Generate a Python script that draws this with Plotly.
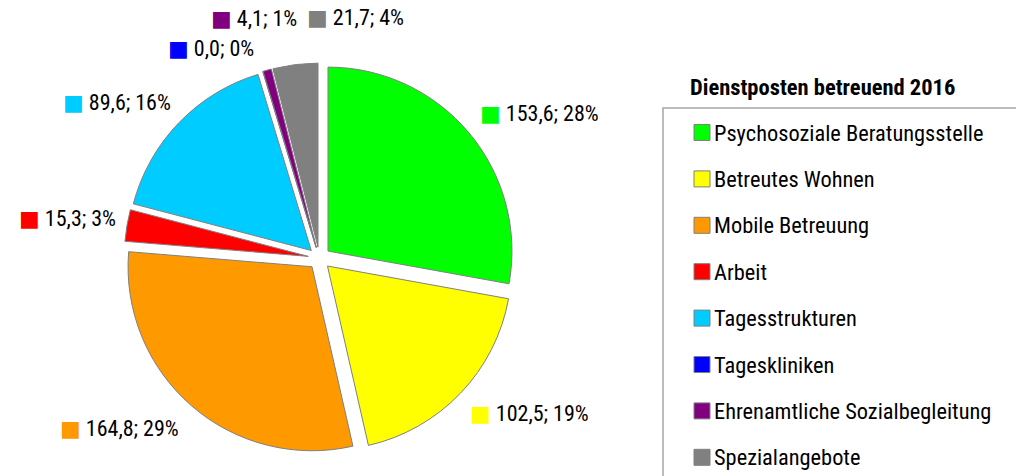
import math
import plotly.graph_objects as go

categories = ["Psychosoziale Beratungsstelle", "Betreutes Wohnen", "Mobile Betreuung", "Arbeit",
              "Tagesstrukturen", "Tageskliniken", "Ehrenamtliche Sozialbegleitung", "Spezialangebote"]
values = [153.6, 102.5, 164.8, 15.3, 89.6, 0.0, 4.1, 21.7]
percent_labels = [28, 19, 29, 3, 16, 0, 1, 4]
colors = ["#00ff00", "#ffff00", "#ff9900", "#ff0000", "#00ccff", "#0000ff", "#800080", "#808080"]
legend_title = "Dienstposten betreuend 2016"

FONT = "Roboto Condensed, Roboto, Liberation Sans, sans-serif"
W, H = 1016, 476
PULL = 0.061
DOM_X = [0.1222, 0.5065]
DOM_Y = [0.0473, 0.8675]
# label layout (pixel nudges, like the hand-placed labels of the original)
LABEL_GAP = 24
label_nudge = [(-10, -4), (-10, 4), (5, 5), (15, -3), (12, -4), (0, 0), (38, -29), (114, -23)]

fig = go.Figure()
fig.add_trace(go.Pie(
    labels=categories, values=values,
    textinfo="none",
    marker=dict(colors=colors, line=dict(color="#808080", width=1)),
    sort=False, direction="clockwise", rotation=0,
    pull=[PULL] * len(values),
    domain=dict(x=DOM_X, y=DOM_Y),
    showlegend=False, hoverinfo="label+value+percent",
))

shapes = []
annotations = []

# data labels positioned from the slice mid-angles
side = min((DOM_X[1] - DOM_X[0]) * W, (DOM_Y[1] - DOM_Y[0]) * H)
r = side / 2 / (1 + PULL)
cx = (DOM_X[0] + DOM_X[1]) / 2 * W
cy = H - (DOM_Y[0] + DOM_Y[1]) / 2 * H
total = sum(values)
cum = 0.0
for i, (v, p, c) in enumerate(zip(values, percent_labels, colors)):
    mid = (cum + v / 2) / total * 2 * math.pi
    cum += v
    d = r * (1 + PULL) + LABEL_GAP
    px = cx + d * math.sin(mid) + label_nudge[i][0]
    py = cy - d * math.cos(mid) + label_nudge[i][1]
    anchor = "left" if math.sin(mid) > -0.1 else "right"
    txt = (f"<span style='color:{c};font-family:DejaVu Sans'>■</span> "
           + f"{v:.1f}".replace(".", ",") + f"; {p}%")
    annotations.append(dict(text=txt, xref="paper", yref="paper", x=px / W, y=1 - py / H,
                            xanchor=anchor, yanchor="middle", showarrow=False,
                            font=dict(family=FONT, size=22, color="#000000")))

# legend frame
shapes.append(dict(type="rect", xref="paper", yref="paper",
                   x0=663 / W, x1=1.05, y0=-0.05, y1=1 - 108 / H,
                   line=dict(color="#a6a6a6", width=1.5), fillcolor="rgba(0,0,0,0)"))
annotations.append(dict(text=f"<b>{legend_title}</b>", xref="paper", yref="paper",
                        x=688 / W, y=1 - 87 / H, xanchor="left", yanchor="middle",
                        showarrow=False, font=dict(family=FONT, size=22.5, color="#000000")))
for i, (cat, c) in enumerate(zip(categories, colors)):
    yc = 132.5 + 46.4 * i
    shapes.append(dict(type="rect", xref="paper", yref="paper",
                       x0=694 / W, x1=710 / W, y0=1 - (yc + 8) / H, y1=1 - (yc - 8) / H,
                       line=dict(color="#808080", width=1), fillcolor=c))
    annotations.append(dict(text=cat, xref="paper", yref="paper",
                            x=712 / W, y=1 - yc / H, xanchor="left", yanchor="middle",
                            showarrow=False, font=dict(family=FONT, size=22.4, color="#000000")))

fig.update_layout(
    width=W, height=H, margin=dict(l=0, r=0, t=0, b=0),
    paper_bgcolor="white", plot_bgcolor="white",
    shapes=shapes, annotations=annotations,
    font=dict(family=FONT),
)
fig.write_html("out.html", config={"displayModeBar": False},
               post_script="document.body.style.margin='0px';")
